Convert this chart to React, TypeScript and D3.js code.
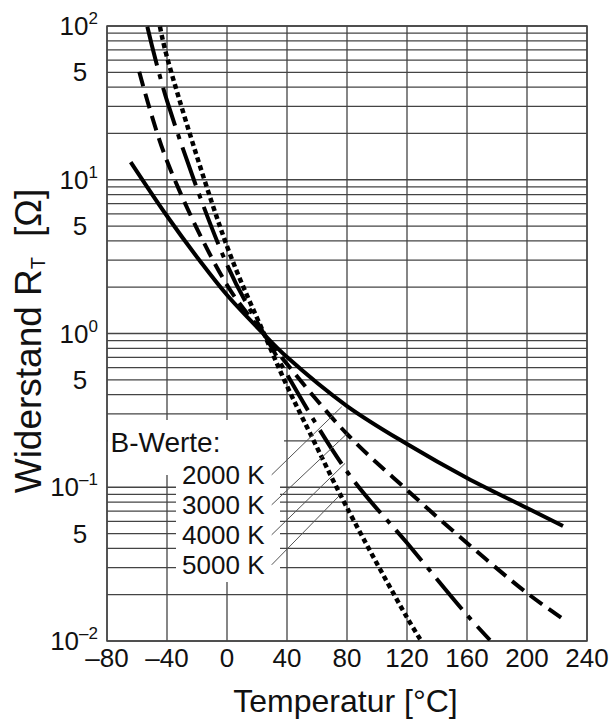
import React from 'react';
import * as d3 from 'd3';

const W = 609;
const H = 722;
const PL = 107, PT = 26, PR = 587, PB = 641;

const xTicks = [-80, -40, 0, 40, 80, 120, 160, 200, 240];
const xTickLabels = ['–80', '–40', '0', '40', '80', '120', '160', '200', '240'];
const yDecadeExps = [2, 1, 0, -1, -2];
const yFiveValues = [50, 5, 0.5, 0.05];

const bLabels = ['2000 K', '3000 K', '4000 K', '5000 K'];

// [temperature °C, resistance Ω]
const b2000: [number, number][] = [
  [-64.2, 13.04], [-40, 5.81], [-18, 2.96], [0, 1.78], [25, 0.98], [40, 0.703],
  [80, 0.3376], [120, 0.191], [160, 0.1149], [200, 0.0733], [224, 0.056],
];
const b3000: [number, number][] = [
  [-58.5, 50.4], [-40, 13.24], [0, 2.068], [25, 0.98], [40, 0.633], [80, 0.222],
  [120, 0.096], [160, 0.0434], [200, 0.0205], [223.1, 0.0141],
];
const b4000: [number, number][] = [
  [-53.1, 99], [-39.8, 32.2], [0.2, 2.778], [25, 0.98], [80.2, 0.1257],
  [120.2, 0.0432], [160, 0.01476], [175.3, 0.01015],
];
const b5000: [number, number][] = [
  [-44.7, 99], [-39.8, 61.7], [0.2, 3.652], [25, 0.98], [40, 0.4556], [55.3, 0.2253],
  [80.2, 0.073], [120.2, 0.01411], [129.8, 0.0099],
];
// leader-line end points on the curves [°C, Ω]
const leaderEnds: [number, number][] = [
  [76.5, 0.334], [80.2, 0.224], [78.7, 0.143], [75.3, 0.089],
];

const series = [
  { data: b2000, dash: 'none', width: 4 },
  { data: b3000, dash: '15 8', width: 4 },
  { data: b4000, dash: '40 9 5 9', width: 4 },
  { data: b5000, dash: '5 3.5', width: 4.5 },
];

const FONT = '"Liberation Sans", Arial, Helvetica, sans-serif';

export default function App() {
  const x = d3.scaleLinear().domain([-80, 240]).range([PL, PR]);
  const y = d3.scaleLog().domain([0.01, 100]).range([PB, PT]);

  const hLines: number[] = [];
  for (let e = -2; e <= 1; e++) {
    for (let k = 1; k <= 9; k++) hLines.push(k * Math.pow(10, e));
  }
  hLines.push(100);

  const line = d3
    .line<[number, number]>()
    .x((d) => x(d[0]))
    .y((d) => y(d[1]))
    .curve(d3.curveCatmullRom.alpha(0.5));

  const gridColor = '#444';
  const labelY0 = 484.3;
  const labelStep = 30;

  return (
    <svg width={W} height={H} style={{ position: 'absolute', left: 0, top: 0, background: '#fff' }} fontFamily={FONT}>
      <defs>
        <clipPath id="plot">
          <rect x={PL} y={PT} width={PR - PL} height={PB - PT} />
        </clipPath>
      </defs>
      <rect x={0} y={0} width={W} height={H} fill="#fff" />
      {/* grid */}
      {hLines.map((v, i) => (
        <line key={'h' + i} x1={PL} x2={PR} y1={y(v)} y2={y(v)} stroke={gridColor} strokeWidth={1.3} />
      ))}
      {xTicks.map((t, i) => (
        <line key={'v' + i} x1={x(t)} x2={x(t)} y1={PT} y2={PB} stroke={gridColor} strokeWidth={1.3} />
      ))}
      {/* legend knockout */}
      <rect x={PL + 1} y={420} width={176} height={55} fill="#fff" />
      <rect x={176} y={474} width={104} height={108} fill="#fff" />
      {/* frame */}
      <rect x={PL} y={PT} width={PR - PL} height={PB - PT} fill="none" stroke={gridColor} strokeWidth={1.5} />
      {/* curves */}
      <g clipPath="url(#plot)">
        {series.map((s, i) => (
          <path key={'s' + i} d={line(s.data) || ''} fill="none" stroke="#000" strokeWidth={s.width}
            strokeDasharray={s.dash === 'none' ? undefined : s.dash} />
        ))}
      </g>
      {/* legend */}
      <text x={110.5} y={451.7} fontSize={28} fill="#111">B-Werte:</text>
      {bLabels.map((l, i) => (
        <text key={'l' + i} x={264.5} y={labelY0 + i * labelStep} fontSize={26} textAnchor="end" fill="#111">{l}</text>
      ))}
      {leaderEnds.map((p, i) => (
        <line key={'ld' + i} x1={271.7} y1={labelY0 - 9.5 + i * labelStep} x2={x(p[0])} y2={y(p[1])}
          stroke="#555" strokeWidth={1} />
      ))}
      {/* x ticks */}
      {xTicks.map((t, i) => (
        <text key={'xt' + i} x={x(t)} y={667} fontSize={26} textAnchor="middle" fill="#111">{xTickLabels[i]}</text>
      ))}
      <text x={345.5} y={711.7} fontSize={32} textAnchor="middle" fill="#111">Temperatur [°C]</text>
      {/* y ticks */}
      {yDecadeExps.map((e, i) => (
        <text key={'yd' + i} x={98} y={y(Math.pow(10, e)) + 9} fontSize={26} textAnchor="end" fill="#111">
          10<tspan fontSize={17} dy={-11}>{e < 0 ? '–' + Math.abs(e) : String(e)}</tspan>
        </text>
      ))}
      {yFiveValues.map((v, i) => (
        <text key={'yf' + i} x={80} y={y(v) + 9} fontSize={26} textAnchor="middle" fill="#111">5</text>
      ))}
      {/* y title */}
      <text transform="translate(41,341) rotate(-90)" fontSize={37} textAnchor="middle" fill="#111">
        Widerstand R<tspan fontSize={20} dy={4}>T</tspan><tspan dy={-4} dx={20}>[Ω]</tspan>
      </text>
    </svg>
  );
}
